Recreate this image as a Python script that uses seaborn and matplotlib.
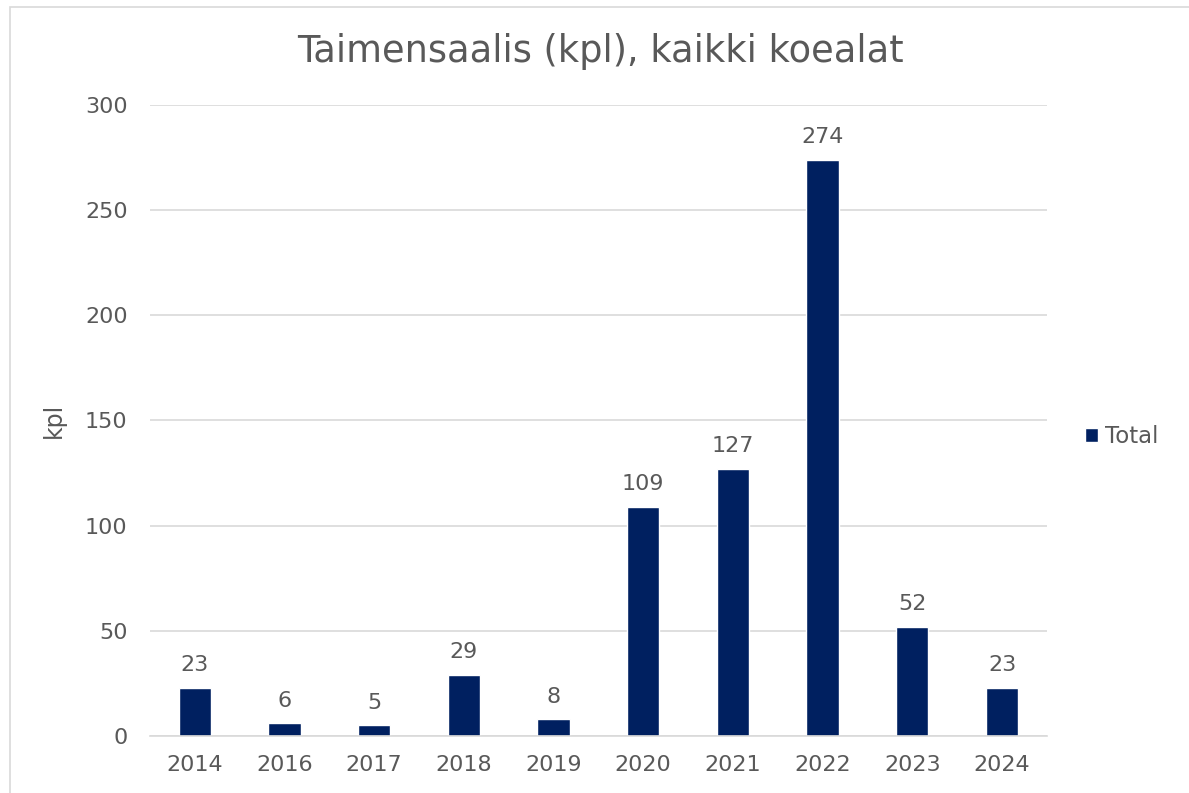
import numpy as np
import pandas as pd
import matplotlib
matplotlib.use("Agg")
import matplotlib.pyplot as plt
import seaborn as sns
from matplotlib.patches import Rectangle

years = ["2014", "2016", "2017", "2018", "2019", "2020", "2021", "2022", "2023", "2024"]
catch = [23, 6, 5, 29, 8, 109, 127, 274, 52, 23]
y_ticks = [0, 50, 100, 150, 200, 250, 300]

df = pd.DataFrame({"vuosi": years, "kpl": catch})

sns.set_theme(style="white")
plt.rcParams['font.family'] = ['DejaVu Sans']

text_col = '#595959'
bar_col = '#002060'

fig = plt.figure(figsize=(11.89, 7.93), dpi=100)
ax = fig.add_axes([0.126, 0.072, 0.7545, 0.7955])

sns.barplot(data=df, x="vuosi", y="kpl", color=bar_col, width=0.36,
            label="Total", ax=ax, saturation=1)

ax.set_ylim(0, 300)
ax.set_yticks(y_ticks)
ax.set_xlim(-0.5, len(years) - 0.5)
ax.yaxis.grid(True, color='#d9d9d9', linewidth=1.2)
ax.set_axisbelow(True)
for s in ['top', 'right', 'left']:
    ax.spines[s].set_visible(False)
ax.spines['bottom'].set_color('#d9d9d9')
ax.spines['bottom'].set_linewidth(1.2)
ax.tick_params(axis='both', length=0, labelsize=16, colors=text_col)
ax.tick_params(axis='y', pad=16)
ax.tick_params(axis='x', pad=14)

ax.bar_label(ax.containers[0], fontsize=16, color=text_col, padding=9)

ax.set_xlabel('')
ax.set_ylabel('kpl', fontsize=17, color=text_col, labelpad=14)
fig.text(0.505, 0.935, 'Taimensaalis (kpl), kaikki koealat', ha='center', va='center',
         fontsize=26.5, color=text_col)

leg = ax.legend(loc='center left', bbox_to_anchor=(1.02, 0.475), frameon=False,
                fontsize=16.5, handlelength=0.55, handleheight=0.55, handletextpad=0.3,
                labelcolor=text_col)

fig.patches.append(Rectangle((10 / 1189, -0.05), 1.1, 1 - 7 / 793 + 0.05,
                             transform=fig.transFigure, fill=False,
                             edgecolor='#d9d9d9', linewidth=1.2))

fig.savefig('out.png', dpi=100)
